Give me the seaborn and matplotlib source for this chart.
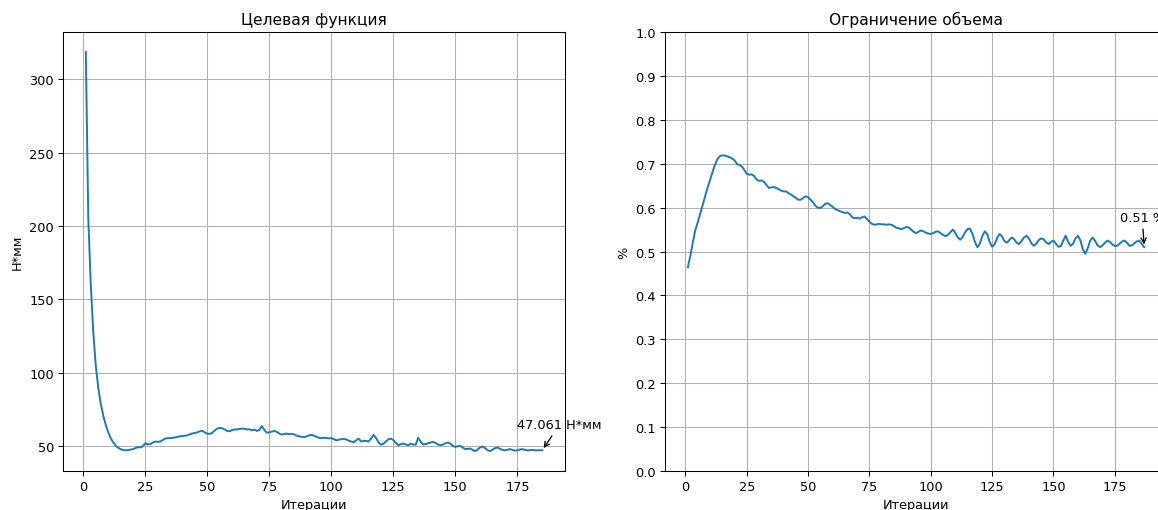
import numpy as np
import pandas as pd
import seaborn as sns
import matplotlib.pyplot as plt

# целевая функция по итерациям (Н*мм)
objective = [
    318.6, 205, 160, 128, 105, 90, 79, 71, 64.5, 59.5,
    55.5, 52.5, 50.3, 48.8, 47.8, 47.2, 47.0, 47.2, 47.5, 47.8,
    48.5, 49.2, 49.0, 49.8, 51.8, 51.0, 51.3, 52.3, 53.0, 52.8,
    53.0, 54.0, 55.0, 55.3, 55.4, 55.5, 55.8, 56.2, 56.5, 56.8,
    57.0, 57.2, 58.0, 58.5, 58.8, 59.3, 60.0, 60.3, 59.2, 58.3,
    58.2, 59.0, 60.5, 61.8, 62.3, 62.0, 61.2, 60.2, 60.0, 60.8,
    61.2, 61.3, 61.6, 61.8, 61.7, 61.2, 61.4, 60.6, 61.2, 60.2,
    61.0, 63.5, 60.8, 59.0, 59.3, 59.8, 60.2, 59.6, 58.5, 57.7,
    58.2, 58.4, 58.0, 58.3, 57.8, 57.0, 56.6, 56.2, 56.0, 56.5,
    57.2, 57.5, 57.0, 56.3, 55.5, 55.3, 55.6, 55.4, 55.2, 55.3,
    54.6, 53.8, 54.2, 54.6, 54.8, 54.4, 53.6, 53.0, 52.5, 53.8,
    55.0, 53.0, 53.4, 53.5, 53.0, 55.0, 57.5, 55.5, 52.5, 50.8,
    51.5, 53.0, 54.5, 55.0, 54.0, 52.0, 50.5, 51.2, 51.6, 51.0,
    50.5, 51.6, 51.0, 50.8, 55.5, 53.0, 51.0, 51.3, 51.8, 52.3,
    52.8, 52.0, 51.0, 50.5, 51.0, 51.8, 52.3, 51.5, 50.0, 49.3,
    49.8, 50.0, 48.8, 47.8, 48.0, 48.2, 47.2, 46.5, 47.5, 49.0,
    49.6, 48.5, 47.0, 46.5, 47.5, 48.5, 48.9, 48.0, 47.3, 47.0,
    47.4, 47.8, 47.3, 46.8, 47.0, 47.5, 47.8, 47.3, 47.0, 47.1,
    47.3, 47.0, 47.0, 47.05, 47.061,
]

# ограничение объема по итерациям
volume = [
    0.464, 0.490, 0.520, 0.548, 0.566, 0.585, 0.605, 0.625, 0.645, 0.662,
    0.680, 0.697, 0.710, 0.717, 0.719, 0.719, 0.717, 0.715, 0.712, 0.708,
    0.700, 0.697, 0.694, 0.686, 0.677, 0.675, 0.676, 0.672, 0.664, 0.661,
    0.662, 0.659, 0.652, 0.645, 0.646, 0.647, 0.645, 0.642, 0.639, 0.637,
    0.637, 0.633, 0.630, 0.626, 0.622, 0.618, 0.618, 0.622, 0.626, 0.624,
    0.618, 0.612, 0.604, 0.600, 0.599, 0.603, 0.609, 0.610, 0.606, 0.602,
    0.597, 0.594, 0.592, 0.590, 0.588, 0.589, 0.585, 0.578, 0.576, 0.577,
    0.575, 0.578, 0.580, 0.574, 0.568, 0.563, 0.561, 0.562, 0.563, 0.562,
    0.562, 0.561, 0.562, 0.561, 0.558, 0.554, 0.553, 0.551, 0.553, 0.556,
    0.555, 0.550, 0.545, 0.542, 0.545, 0.548, 0.546, 0.543, 0.541, 0.540,
    0.542, 0.545, 0.546, 0.542, 0.538, 0.535, 0.538, 0.544, 0.550, 0.543,
    0.532, 0.527, 0.533, 0.544, 0.551, 0.552, 0.540, 0.522, 0.510, 0.518,
    0.535, 0.546, 0.540, 0.522, 0.511, 0.516, 0.530, 0.540, 0.535, 0.524,
    0.520, 0.526, 0.532, 0.528, 0.520, 0.517, 0.524, 0.532, 0.536, 0.530,
    0.519, 0.513, 0.518, 0.526, 0.530, 0.528, 0.521, 0.517, 0.522, 0.525,
    0.518, 0.511, 0.512, 0.525, 0.536, 0.522, 0.513, 0.518, 0.530, 0.536,
    0.525, 0.505, 0.495, 0.508, 0.525, 0.532, 0.524, 0.514, 0.510, 0.514,
    0.520, 0.525, 0.522, 0.516, 0.513, 0.513, 0.518, 0.523, 0.525, 0.520,
    0.513, 0.514, 0.519, 0.523, 0.525, 0.517, 0.510,
]

df1 = pd.DataFrame({'iter': np.arange(1, len(objective) + 1), 'val': objective})
df2 = pd.DataFrame({'iter': np.arange(1, len(volume) + 1), 'val': volume})

dpi = 93
fig = plt.figure(figsize=(1158 / dpi, 511 / dpi), dpi=dpi)
ax1 = fig.add_axes([0.0544, 0.0763, 0.4335, 0.859])
ax2 = fig.add_axes([0.5743, 0.0763, 0.4335, 0.859])

# левый график
sns.lineplot(data=df1, x='iter', y='val', ax=ax1, color='#1f77b4')
ax1.set_title('Целевая функция')
ax1.set_xlabel('Итерации')
ax1.set_ylabel('Н*мм')
ax1.grid(True)
last1 = df1.iloc[-1]
ax1.annotate('%.3f Н*мм' % last1['val'], xy=(last1['iter'], last1['val']),
             xytext=(last1['iter'] - 10, last1['val'] + 15),
             arrowprops=dict(arrowstyle='->'), annotation_clip=False)

# правый график
sns.lineplot(data=df2, x='iter', y='val', ax=ax2, color='#1f77b4')
ax2.set_title('Ограничение объема')
ax2.set_xlabel('Итерации')
ax2.set_ylabel('%')
ax2.set_ylim(0, 1)
ax2.set_yticks(np.arange(0, 1.01, 0.1))
ax2.grid(True)
last2 = df2.iloc[-1]
ax2.annotate('%.2f %%' % last2['val'], xy=(last2['iter'], last2['val']),
             xytext=(last2['iter'] - 10, last2['val'] + 0.06),
             arrowprops=dict(arrowstyle='->'), annotation_clip=False)

plt.savefig('out.png', dpi=dpi)
